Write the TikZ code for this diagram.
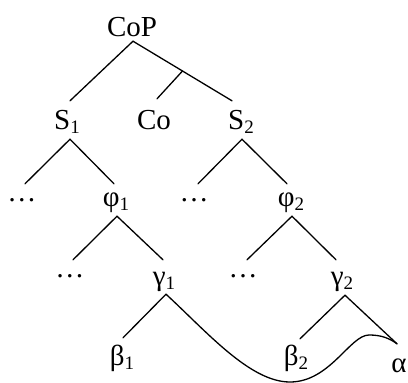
\documentclass[tikz,border=0pt]{standalone}
\usepackage{fontspec}
\setmainfont{Liberation Serif}
\usetikzlibrary{calc}
\newcommand{\lbl}[2]{#1\raisebox{-4.5pt}{\fontsize{19}{19}\selectfont #2}}
\begin{document}
\begin{tikzpicture}[x=1pt,y=-1pt,
  word/.style={inner sep=0pt,anchor=base,text height=20pt,text depth=0pt,
    font=\fontsize{29}{29}\selectfont},
  branch/.style={line width=1.3pt,line cap=round}]
\useasboundingbox (0,0) rectangle (408,383);
% labels (placed by their baselines)
\node[word] (cop) at (132,36) {CoP};
\node[word] (s1)  at (67,129) {\lbl{S}{1}};
\node[word] (co)  at (154,129) {Co};
\node[word] (s2)  at (241,129) {\lbl{S}{2}};
\node[word] (d1)  at (22,201) {\dots};
\node[word] (phi1) at (116,206) {\lbl{φ}{1}};
\node[word] (d2)  at (194,201) {\dots};
\node[word] (phi2) at (291,206) {\lbl{φ}{2}};
\node[word] (d3)  at (70,277) {\dots};
\node[word] (g1)  at (164,285) {\lbl{γ}{1}};
\node[word] (d4)  at (243,277) {\dots};
\node[word] (g2)  at (342,285) {\lbl{γ}{2}};
\node[word] (b1)  at (122,365) {\lbl{β}{1}};
\node[word] (b2)  at (296,365) {\lbl{β}{2}};
\node[word] (al)  at (399,372) {α};
% tree branches
\draw[branch] ([shift={(1,5)}]cop.south) -- ([shift={(3,-8)}]s1.north);
\draw[branch] ([shift={(1,5)}]cop.south) -- ([shift={(-9,-8)}]s2.north);
\coordinate (mid) at ($([shift={(1,5)}]cop.south)!0.5!([shift={(-9,-8)}]s2.north)$);
\draw[branch] (mid) -- ([shift={(3,-10)}]co.north);
\draw[branch] ([shift={(3,10)}]s1.south) -- ([shift={(3,3)}]d1.north);
\draw[branch] ([shift={(3,10)}]s1.south) -- ([shift={(-2,-2)}]phi1.north);
\draw[branch] ([shift={(1,10)}]s2.south) -- ([shift={(4,3)}]d2.north);
\draw[branch] ([shift={(1,10)}]s2.south) -- ([shift={(-4,-2)}]phi2.north);
\draw[branch] ([shift={(1,10)}]phi1.south) -- ([shift={(3,3)}]d3.north);
\draw[branch] ([shift={(1,10)}]phi1.south) -- ([shift={(-1,-5)}]g1.north);
\draw[branch] ([shift={(1,10)}]phi2.south) -- ([shift={(4,3)}]d4.north);
\draw[branch] ([shift={(1,10)}]phi2.south) -- ([shift={(-6,-5)}]g2.north);
\draw[branch] ([shift={(2,9)}]g1.south) -- ([shift={(1,-7)}]b1.north);
\draw[branch] ([shift={(3,10)}]g2.south) -- ([shift={(4,-6)}]b2.north);
\draw[branch] ([shift={(3,10)}]g2.south) -- ([shift={(-2,-8)}]al.north);
% long curved link from gamma_1 to alpha
\draw[branch] ([shift={(2,9)}]g1.south)
  .. controls (207,332) and (250,382) .. (290,382)
  .. controls (330,382) and (350,335) .. (369,335)
  .. controls (381,335) and (389,338) .. ([shift={(-2,-8)}]al.north);
\end{tikzpicture}
\end{document}
